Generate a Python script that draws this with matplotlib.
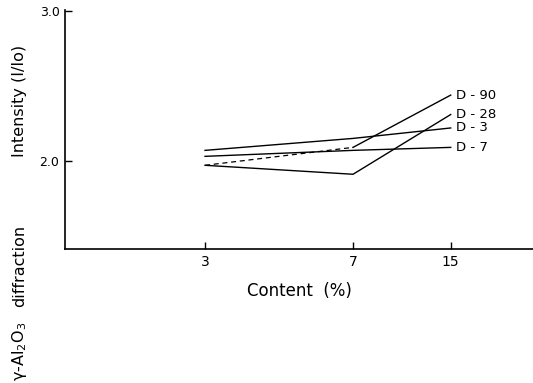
import matplotlib
matplotlib.use("Agg")
import matplotlib.pyplot as plt

# data
content = ["3", "7", "15"]
x_pos = [1.0, 2.0, 2.66]  # the original axis is not evenly spaced

names = ["D - 90", "D - 28", "D - 3", "D - 7"]
d90 = [1.97, 2.09, 2.44]
d28 = [1.97, 1.91, 2.31]
d3 = [2.07, 2.15, 2.22]
d7 = [2.03, 2.07, 2.09]
series = [d90, d28, d3, d7]

fig = plt.figure(figsize=(5.33, 3.83), dpi=100)
ax = fig.add_axes([0.122, 0.350, 0.878, 0.624])

for name, vals in zip(names, series):
    if name == "D - 90":
        # first part drawn dashed in the original
        ax.plot(x_pos[:2], vals[:2], color="black", lw=0.9, ls=(0, (4, 3)))
        ax.plot(x_pos[1:], vals[1:], color="black", lw=1.0)
    else:
        ax.plot(x_pos, vals, color="black", lw=1.0)
    ax.annotate(name, (x_pos[-1], vals[-1]), xytext=(4, 0),
                textcoords="offset points", va="center", ha="left",
                fontsize=9.5)

ax.set_xlim(0.054, 3.216)
ax.set_ylim(1.41, 3.01)

ax.set_xticks(x_pos)
ax.set_xticklabels(content, fontsize=10)
ax.set_yticks([2.0, 3.0])
ax.set_yticklabels(["2.0", "3.0"], fontsize=9)
ax.tick_params(axis="both", direction="in", length=5, width=1, pad=4)

for side in ["top", "right"]:
    ax.spines[side].set_visible(False)
for side in ["left", "bottom"]:
    ax.spines[side].set_linewidth(1.2)

ax.set_xlabel("Content  (%)", fontsize=12, labelpad=10)

# the y label of the scan is widely spaced and runs off the bottom edge,
# so its three words are placed one by one
H = 383.0
fig.text(0.036, 1 - 45 / H, "Intensity (I/Io)", rotation=90,
         ha="center", va="top", fontsize=11.5)
fig.text(0.036, 1 - 266 / H, "diffraction", rotation=90,
         ha="center", va="center", fontsize=11.5)
fig.text(0.036, 1 - 322 / H, "γ-Al$_2$O$_3$", rotation=90,
         ha="center", va="top", fontsize=11.5)

fig.savefig("out.png", dpi=100)
plt.close(fig)
